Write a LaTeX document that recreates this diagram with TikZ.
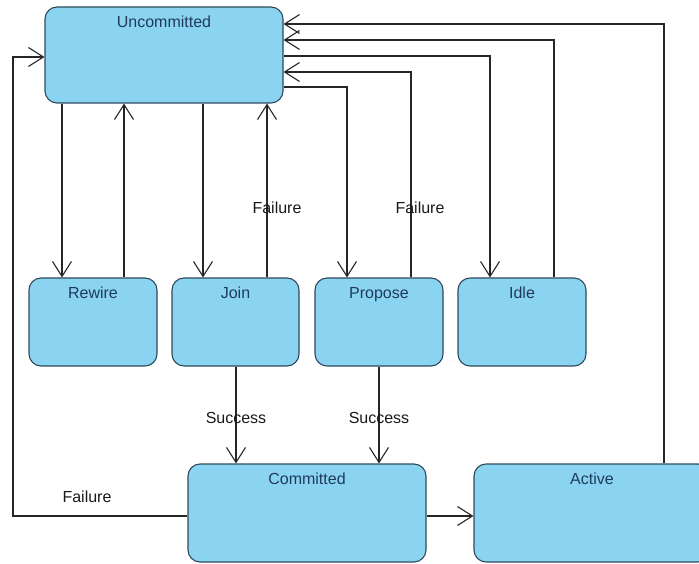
\documentclass[tikz,border=0pt]{standalone}
\usepackage{fontspec}
\setmainfont{Liberation Sans}
\usetikzlibrary{arrows.meta}
\definecolor{boxfill}{HTML}{8AD4F2}
\definecolor{boxline}{HTML}{2E4A5A}
\definecolor{boxtext}{HTML}{1F3B5A}
\definecolor{connline}{HTML}{262626}
\tikzset{
  state/.style={draw=boxline, line width=1.1pt, fill=boxfill, rounded corners=12pt, inner sep=0pt},
  blbl/.style={text=boxtext, inner sep=0pt, text height=11.5pt, text depth=3.5pt, font=\fontsize{16}{19}\selectfont},
  elbl/.style={text=black!90, inner sep=0pt, text height=11.5pt, text depth=3.5pt, font=\fontsize{16}{19}\selectfont},
  conn/.style={draw=connline, line width=1.1pt, -{Straight Barb[length=15pt,width=19pt,line width=1.1pt]}},
}
\begin{document}
\begin{tikzpicture}[x=1pt,y=-1pt]
\useasboundingbox (0,0) rectangle (699,564);
\clip (0,0) rectangle (699,564);
% boxes
\node[state, minimum width=238pt, minimum height=96pt] (unc) at (164,55) {};
\node[state, minimum width=128pt, minimum height=88pt] (rew) at (93,322) {};
\node[state, minimum width=127pt, minimum height=88pt] (join) at (235.5,322) {};
\node[state, minimum width=128pt, minimum height=88pt] (prop) at (379,322) {};
\node[state, minimum width=128pt, minimum height=88pt] (idle) at (522,322) {};
\node[state, minimum width=238pt, minimum height=98pt] (com) at (307,513) {};
\node[state, minimum width=236pt, minimum height=98pt] (act) at (592,513) {};
% box labels
\node[blbl] (uncl) at (164,23.5) {Uncommitted};
\node[blbl] (rewl) at (93,294.5) {Rewire};
\node[blbl] (joinl) at (235.5,294.5) {Join};
\node[blbl] (propl) at (379,294.5) {Propose};
\node[blbl] (idlel) at (522,294.5) {Idle};
\node[blbl] (coml) at (307,480.5) {Committed};
\node[blbl] (actl) at (592,480.5) {Active};
% helper coordinates
\coordinate (c1) at (62,0);
\coordinate (c2) at (124,0);
\coordinate (c3) at (203,0);
\coordinate (c4) at (267,0);
\coordinate (c5) at (347,0);
\coordinate (c6) at (411,0);
\coordinate (c7) at (490,0);
\coordinate (c8) at (554,0);
\coordinate (c9) at (664,0);
\coordinate (s1) at (236,0);
\coordinate (s2) at (379,0);
\coordinate (fl) at (13,0);
\coordinate (h1) at (0,24);
\coordinate (h2) at (0,40);
\coordinate (h3) at (0,56);
\coordinate (h4) at (0,72);
\coordinate (h5) at (0,87);
\coordinate (hl) at (0,57);
\coordinate (hb) at (0,516);
% connectors
\draw[conn] (unc.south -| c1) -- (rew.north -| c1);
\draw[conn] (rew.north -| c2) -- (unc.south -| c2);
\draw[conn] (unc.south -| c3) -- (join.north -| c3);
\draw[conn] (join.north -| c4) -- (unc.south -| c4);
\draw[conn] (unc.east |- h5) -| (prop.north -| c5);
\draw[conn] (prop.north -| c6) |- (unc.east |- h4);
\draw[conn] (unc.east |- h3) -| (idle.north -| c7);
\draw[conn] (idle.north -| c8) |- (unc.east |- h2);
\draw[conn] (act.north -| c9) |- (unc.east |- h1);
\draw[conn] (join.south -| s1) -- (com.north -| s1);
\draw[conn] (prop.south -| s2) -- (com.north -| s2);
\draw[conn] (com.east |- hb) -- (act.west |- hb);
\draw[conn] (com.west |- hb) -| (fl |- hl) -- (unc.west |- hl);
% edge labels
\node[elbl] (f1) at (277,209.5) {Failure};
\node[elbl] (f2) at (420,209.5) {Failure};
\node[elbl] (su1) at (236,419.5) {Success};
\node[elbl] (su2) at (379,419.5) {Success};
\node[elbl] (f3) at (87,498.5) {Failure};
\end{tikzpicture}
\end{document}
